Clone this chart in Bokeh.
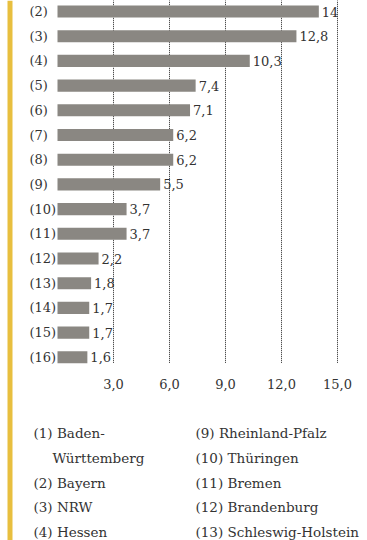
from bokeh.plotting import figure
from bokeh.models import Range1d, ColumnDataSource, BoxAnnotation
from bokeh.core.properties import value
from bokeh.embed import file_html
from bokeh.resources import INLINE

# Data
row_labels = ["(2)", "(3)", "(4)", "(5)", "(6)", "(7)", "(8)", "(9)", "(10)", "(11)",
              "(12)", "(13)", "(14)", "(15)", "(16)"]
values = [14.0, 12.8, 10.3, 7.4, 7.1, 6.2, 6.2, 5.5, 3.7, 3.7, 2.2, 1.8, 1.7, 1.7, 1.6]
value_labels = ["14", "12,8", "10,3", "7,4", "7,1", "6,2", "6,2", "5,5", "3,7", "3,7",
                "2,2", "1,8", "1,7", "1,7", "1,6"]
ticks = [3, 6, 9, 12, 15]
tick_labels = ["3,0", "6,0", "9,0", "12,0", "15,0"]
legend_left = ["(1) Baden-", "Württemberg", "(2) Bayern", "(3) NRW", "(4) Hessen"]
legend_right = ["(9) Rheinland-Pfalz", "(10) Thüringen", "(11) Bremen",
                "(12) Brandenburg", "(13) Schleswig-Holstein"]

W, H = 367, 540
px_per_unit = 56 / 3.0
x0_px = 57
row_px = 24.7
row0_px = 11

x_start = -x0_px / px_per_unit
x_end = (W - x0_px) / px_per_unit
y_top = -row0_px / row_px
y_bottom = (H - row0_px) / row_px

p = figure(width=W, height=H, output_backend="svg", toolbar_location=None,
           x_range=Range1d(x_start, x_end), y_range=Range1d(y_bottom, y_top),
           x_axis_location=None, y_axis_location=None, min_border=0,
           outline_line_color=None, background_fill_color="white",
           border_fill_color="white")
p.grid.visible = False

FONT = value("DejaVu Serif")
TXT = "#333333"

# yellow side bar
p.add_layout(BoxAnnotation(left=7, right=12, left_units="screen", right_units="screen",
                           fill_color="#E8BF3F", fill_alpha=1, line_color=None))

rows = list(range(len(values)))
src = ColumnDataSource(dict(y=rows, v=values, vl=value_labels, rl=row_labels))

# dotted gridlines
p.segment(x0=ticks, x1=ticks, y0=[y_top - 1] * len(ticks), y1=[14.25] * len(ticks),
          line_color="#222222", line_width=1, line_dash="1 1")

p.hbar(y="y", left=0, right="v", height=0.49, source=src,
       fill_color="#8A8782", line_color=None)

p.text(x="v", y="y", text="vl", source=src, x_offset=3, text_baseline="middle",
       text_align="left", text_font=FONT, text_font_size="13px", text_color=TXT)

p.text(x=[x_start] * len(rows), y=rows, text=row_labels, x_offset=29,
       text_baseline="middle", text_align="left", text_font=FONT,
       text_font_size="13px", text_color=TXT)

p.text(x=ticks, y=[15.1] * len(ticks), text=tick_labels, text_baseline="middle",
       text_align="center", text_font=FONT, text_font_size="13px", text_color=TXT)

leg_rows = [17.08 + k for k in range(5)]
left_offsets = [33, 52, 33, 33, 33]
for yy, t, off in zip(leg_rows, legend_left, left_offsets):
    p.text(x=[x_start], y=[yy], text=[t], x_offset=off, text_baseline="middle",
           text_align="left", text_font=FONT, text_font_size="13.5px", text_color=TXT)
p.text(x=[x_start] * 5, y=leg_rows, text=legend_right, x_offset=195,
       text_baseline="middle", text_align="left", text_font=FONT,
       text_font_size="13.5px", text_color=TXT)

open("out.html", "w").write(file_html(p, INLINE))
